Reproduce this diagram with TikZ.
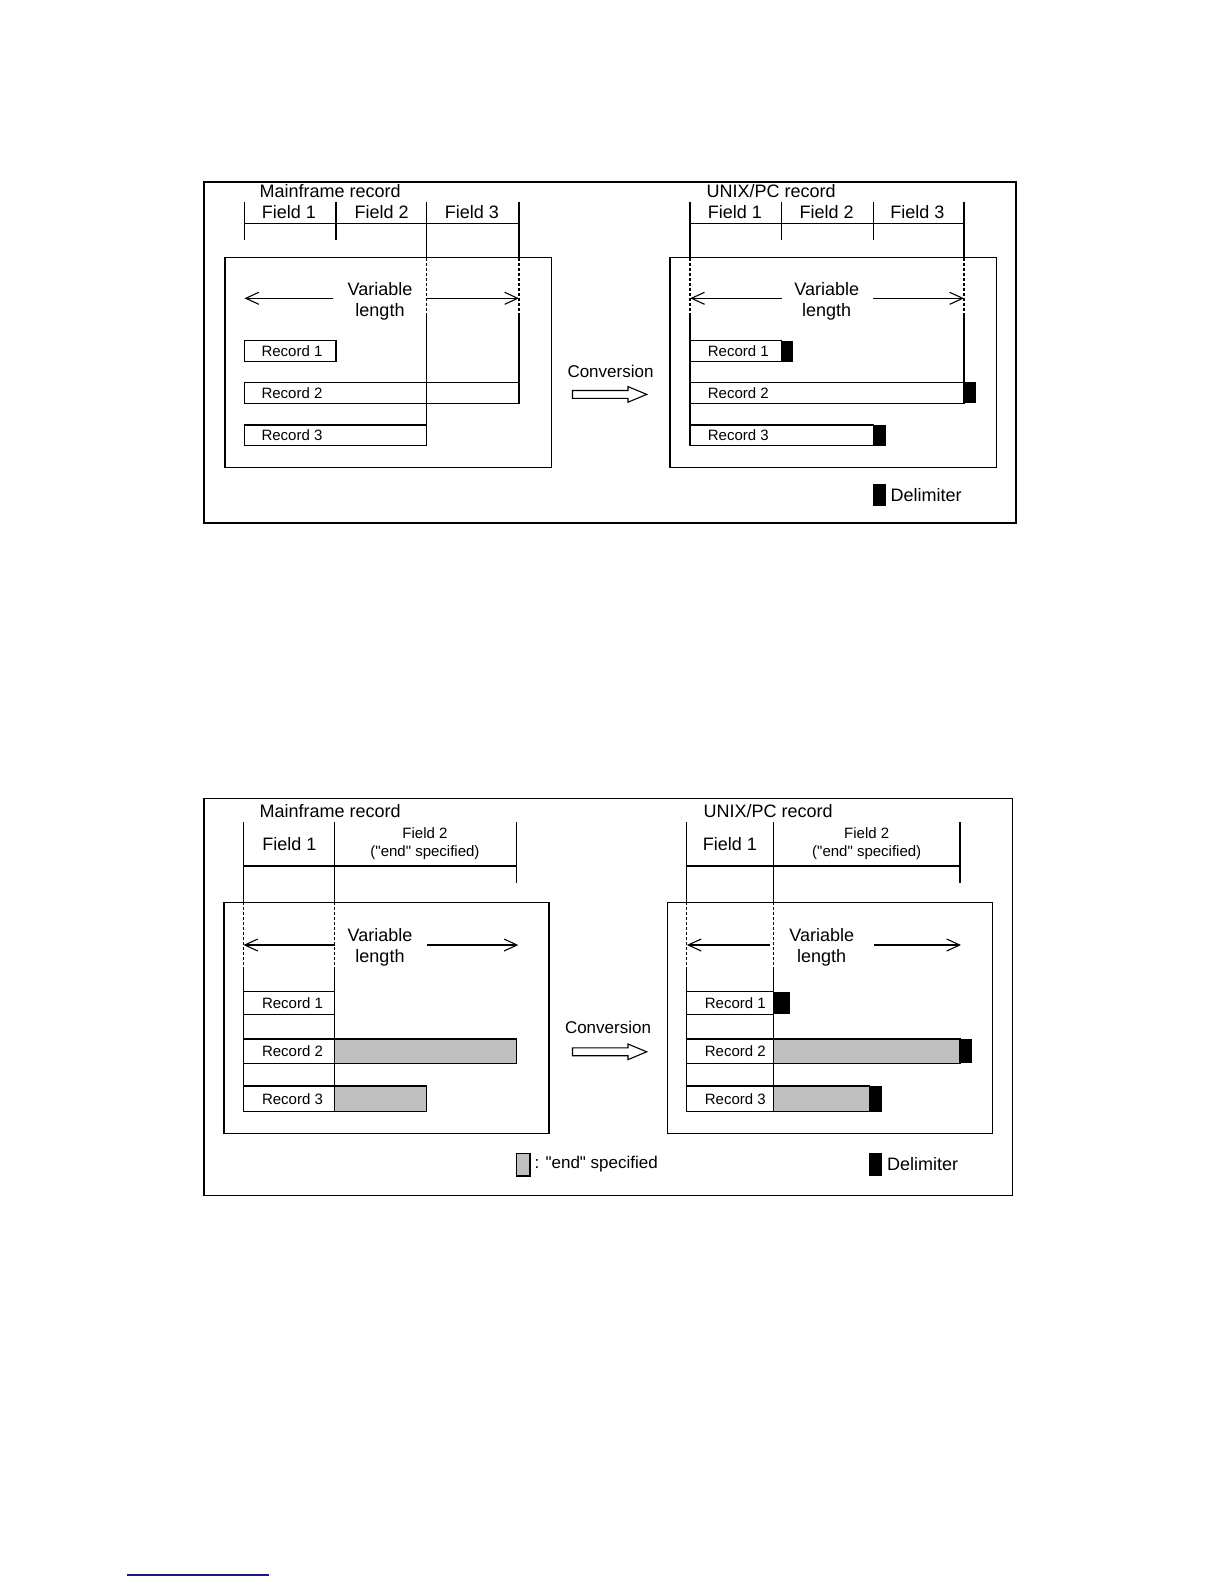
\documentclass[tikz,border=0pt]{standalone}
\usepackage{fontspec}
\setmainfont{Liberation Sans}
\usetikzlibrary{arrows.meta}

\definecolor{endgray}{RGB}{192,192,192}
\definecolor{rulenavy}{RGB}{24,24,128}

\tikzset{
  hdr/.style={inner sep=0pt, anchor=west, font=\fontsize{9}{10.5}\selectfont},
  fld/.style={inner sep=0pt, font=\fontsize{9}{10.5}\selectfont},
  fldsmall/.style={inner sep=0pt, align=center, font=\fontsize{7.5}{9.2}\selectfont},
  varlen/.style={inner sep=0pt, align=center, font=\fontsize{9}{10.5}\selectfont},
  rec/.style={inner sep=0pt, anchor=west, font=\fontsize{7.5}{9}\selectfont},
  conv/.style={inner sep=0pt, font=\fontsize{8.5}{10}\selectfont},
  lenarrow/.style={-{Straight Barb[length=6.5pt,width=6pt]}},
  guide/.style={dash pattern=on 1.5pt off 1pt},
  delim/.style={fill=black},
  endpart/.style={draw, fill=endgray}
}

\begin{document}
\begin{tikzpicture}[x=0.5pt, y=-0.5pt, line width=0.55pt]
\useasboundingbox (0,0) rectangle (1224,1584);

% ---- upper figure: fixed fields ----
\draw (204,182) rectangle (1016,523);
\draw (225,257.7) rectangle (551.7,467.7);
\draw (670,257.7) rectangle (996.7,467.7);

\node[hdr] (mfhead1) at (259,191) {Mainframe record};
\node[hdr] (uxhead1) at (706,191) {UNIX/PC record};

\node[fld] (mffld1) at (289,211.7) {Field 1};
\node[fld] (mffld2) at (381.7,211.7) {Field 2};
\node[fld] (mffld3) at (472,211.7) {Field 3};
\node[fld] (uxfld1) at (735,211.7) {Field 1};
\node[fld] (uxfld2) at (826.7,211.7) {Field 2};
\node[fld] (uxfld3) at (917.3,211.7) {Field 3};

% field rulers
\draw (244.3,223.3) -- (519,223.3);
\draw (244.3,201.7) -- (244.3,240);
\draw (336,201.7) -- (336,240);
\draw (426.7,201.7) -- (426.7,257.7);
\draw[guide] (426.7,257.7) -- (426.7,315);
\draw (426.7,315) -- (426.7,425);
\draw (519,201.7) -- (519,257.7);
\draw[guide] (519,257.7) -- (519,315);
\draw (519,315) -- (519,382.3);

\draw (690,223.3) -- (964,223.3);
\draw (690,201.7) -- (690,257.7);
\draw[guide] (690,257.7) -- (690,315);
\draw (690,315) -- (690,445.7);
\draw (781.7,201.7) -- (781.7,240);
\draw (873.3,201.7) -- (873.3,240);
\draw (964,201.7) -- (964,257.7);
\draw[guide] (964,257.7) -- (964,315);
\draw (964,315) -- (964,382.3);

% variable length
\node[varlen] (mfvar1) at (380,301) {Variable\\length};
\node[varlen] (uxvar1) at (826.7,301) {Variable\\length};
\coordinate (mfl1) at (333,298.3);
\coordinate (mfl1end) at (244.5,298.3);
\coordinate (mfr1) at (426.7,298.3);
\coordinate (mfr1end) at (519,298.3);
\coordinate (uxl1) at (781.7,298.3);
\coordinate (uxl1end) at (690.2,298.3);
\coordinate (uxr1) at (873.3,298.3);
\coordinate (uxr1end) at (964,298.3);
\draw[lenarrow] (mfl1) -- (mfl1end);
\draw[lenarrow] (mfr1) -- (mfr1end);
\draw[lenarrow] (uxl1) -- (uxl1end);
\draw[lenarrow] (uxr1) -- (uxr1end);

% records
\draw (244.3,340.7) rectangle (336,361.7);
\draw (244.3,382.3) rectangle (519,403.3);
\draw (244.3,425) rectangle (426.7,445.7);
\node[rec] (mfrec1) at (261,351.2) {Record 1};
\node[rec] (mfrec2) at (261,392.8) {Record 2};
\node[rec] (mfrec3) at (261,435.3) {Record 3};

\draw (690,340.7) rectangle (781.7,361.7);
\draw (690,382.3) rectangle (964,403.3);
\draw (690,425) rectangle (873.3,445.7);
\fill[delim] (781.7,340.7) rectangle (793.3,361.7);
\fill[delim] (964,382.3) rectangle (976,403.3);
\fill[delim] (873.3,425) rectangle (885.7,445.7);
\node[rec] (uxrec1) at (707.3,351.2) {Record 1};
\node[rec] (uxrec2) at (707.3,392.8) {Record 2};
\node[rec] (uxrec3) at (707.3,435.3) {Record 3};

% conversion
\node[conv] (conv1) at (610.5,371.7) {Conversion};
\draw (572.5,390.5) -- (628,390.5) -- (628,386.6) -- (646.7,394.4)
  -- (628,402.2) -- (628,398.3) -- (572.5,398.3) -- cycle;

% legend
\fill[delim] (873.3,484.3) rectangle (885.7,506);
\node[hdr] (delimkey1) at (890,495.5) {Delimiter};

% ---- lower figure: "end" specified ----
\draw (204,798.3) rectangle (1012.3,1195.7);
\draw (224,902.3) rectangle (549,1133.3);
\draw (667.3,902.3) rectangle (992.3,1133.3);

\node[hdr] (mfhead2) at (259,810.7) {Mainframe record};
\node[hdr] (uxhead2) at (703,810.7) {UNIX/PC record};

\node[fld] (mffld4) at (289.3,844) {Field 1};
\node[fldsmall] (mffld5) at (425,843.5) {Field 2\\(\textquotedbl end\textquotedbl{} specified)};
\node[fld] (uxfld4) at (730,844) {Field 1};
\node[fldsmall] (uxfld5) at (866.7,843.5) {Field 2\\(\textquotedbl end\textquotedbl{} specified)};

% field rulers
\draw (243.3,866) -- (516.7,866);
\draw (516.7,822.3) -- (516.7,883.3);
\draw (243.3,822.3) -- (243.3,902.3);
\draw[guide] (243.3,902.3) -- (243.3,970);
\draw (243.3,970) -- (243.3,1111.7);
\draw (334.3,822.3) -- (334.3,902.3);
\draw[guide] (334.3,902.3) -- (334.3,970);
\draw (334.3,970) -- (334.3,1111.7);

\draw (686.7,866) -- (960,866);
\draw (960,822.3) -- (960,883.3);
\draw (686.7,822.3) -- (686.7,902.3);
\draw[guide] (686.7,902.3) -- (686.7,970);
\draw (686.7,970) -- (686.7,1111.7);
\draw (773.3,822.3) -- (773.3,902.3);
\draw[guide] (773.3,902.3) -- (773.3,970);
\draw (773.3,970) -- (773.3,1111.7);

% variable length
\node[varlen] (mfvar2) at (380,947) {Variable\\length};
\node[varlen] (uxvar2) at (821.7,947) {Variable\\length};
\coordinate (mfl2) at (335,945);
\coordinate (mfl2end) at (243.5,945);
\coordinate (mfr2) at (426.7,945);
\coordinate (mfr2end) at (518.3,945);
\coordinate (uxl2) at (770,945);
\coordinate (uxl2end) at (686.9,945);
\coordinate (uxr2) at (874,945);
\coordinate (uxr2end) at (961,945);
\draw[lenarrow] (mfl2) -- (mfl2end);
\draw[lenarrow] (mfr2) -- (mfr2end);
\draw[lenarrow] (uxl2) -- (uxl2end);
\draw[lenarrow] (uxr2) -- (uxr2end);

% records
\draw (243.3,991.7) rectangle (334.3,1014.3);
\draw (243.3,1039) rectangle (334.3,1063.3);
\draw (243.3,1086) rectangle (334.3,1111.7);
\draw[endpart] (334.3,1039) rectangle (516.7,1063.3);
\draw[endpart] (334.3,1086) rectangle (426.7,1111.7);
\node[rec] (mfrec4) at (261.5,1003) {Record 1};
\node[rec] (mfrec5) at (261.5,1051.2) {Record 2};
\node[rec] (mfrec6) at (261.5,1098.8) {Record 3};

\draw (686.7,991.7) rectangle (773.3,1014.3);
\draw (686.7,1039) rectangle (773.3,1063.3);
\draw (686.7,1086) rectangle (773.3,1111.7);
\draw[endpart] (773.3,1039) rectangle (960,1063.3);
\draw[endpart] (773.3,1086) rectangle (869.3,1111.7);
\fill[delim] (773.3,991.7) rectangle (790,1014.3);
\fill[delim] (960,1039) rectangle (971.7,1063.3);
\fill[delim] (869.3,1086) rectangle (882.3,1111.7);
\node[rec] (uxrec4) at (704.3,1003) {Record 1};
\node[rec] (uxrec5) at (704.3,1051.2) {Record 2};
\node[rec] (uxrec6) at (704.3,1098.8) {Record 3};

% conversion
\node[conv] (conv2) at (608,1027.3) {Conversion};
\draw (572.5,1047.9) -- (628,1047.9) -- (628,1044) -- (646.7,1051.8)
  -- (628,1059.6) -- (628,1055.7) -- (572.5,1055.7) -- cycle;

% legend
\draw[endpart] (516.7,1153.3) rectangle (530,1176);
\node[inner sep=0pt, anchor=west, font=\fontsize{8.5}{10}\selectfont] (endkey2) at (534,1164.5) {: \textquotedbl end\textquotedbl{} specified};
\fill[delim] (869.3,1152.7) rectangle (882.3,1176);
\node[hdr] (delimkey2) at (886.5,1164.5) {Delimiter};

% footnote rule
\draw[rulenavy, line width=0.7pt] (127,1575) -- (269,1575);

\end{tikzpicture}
\end{document}
